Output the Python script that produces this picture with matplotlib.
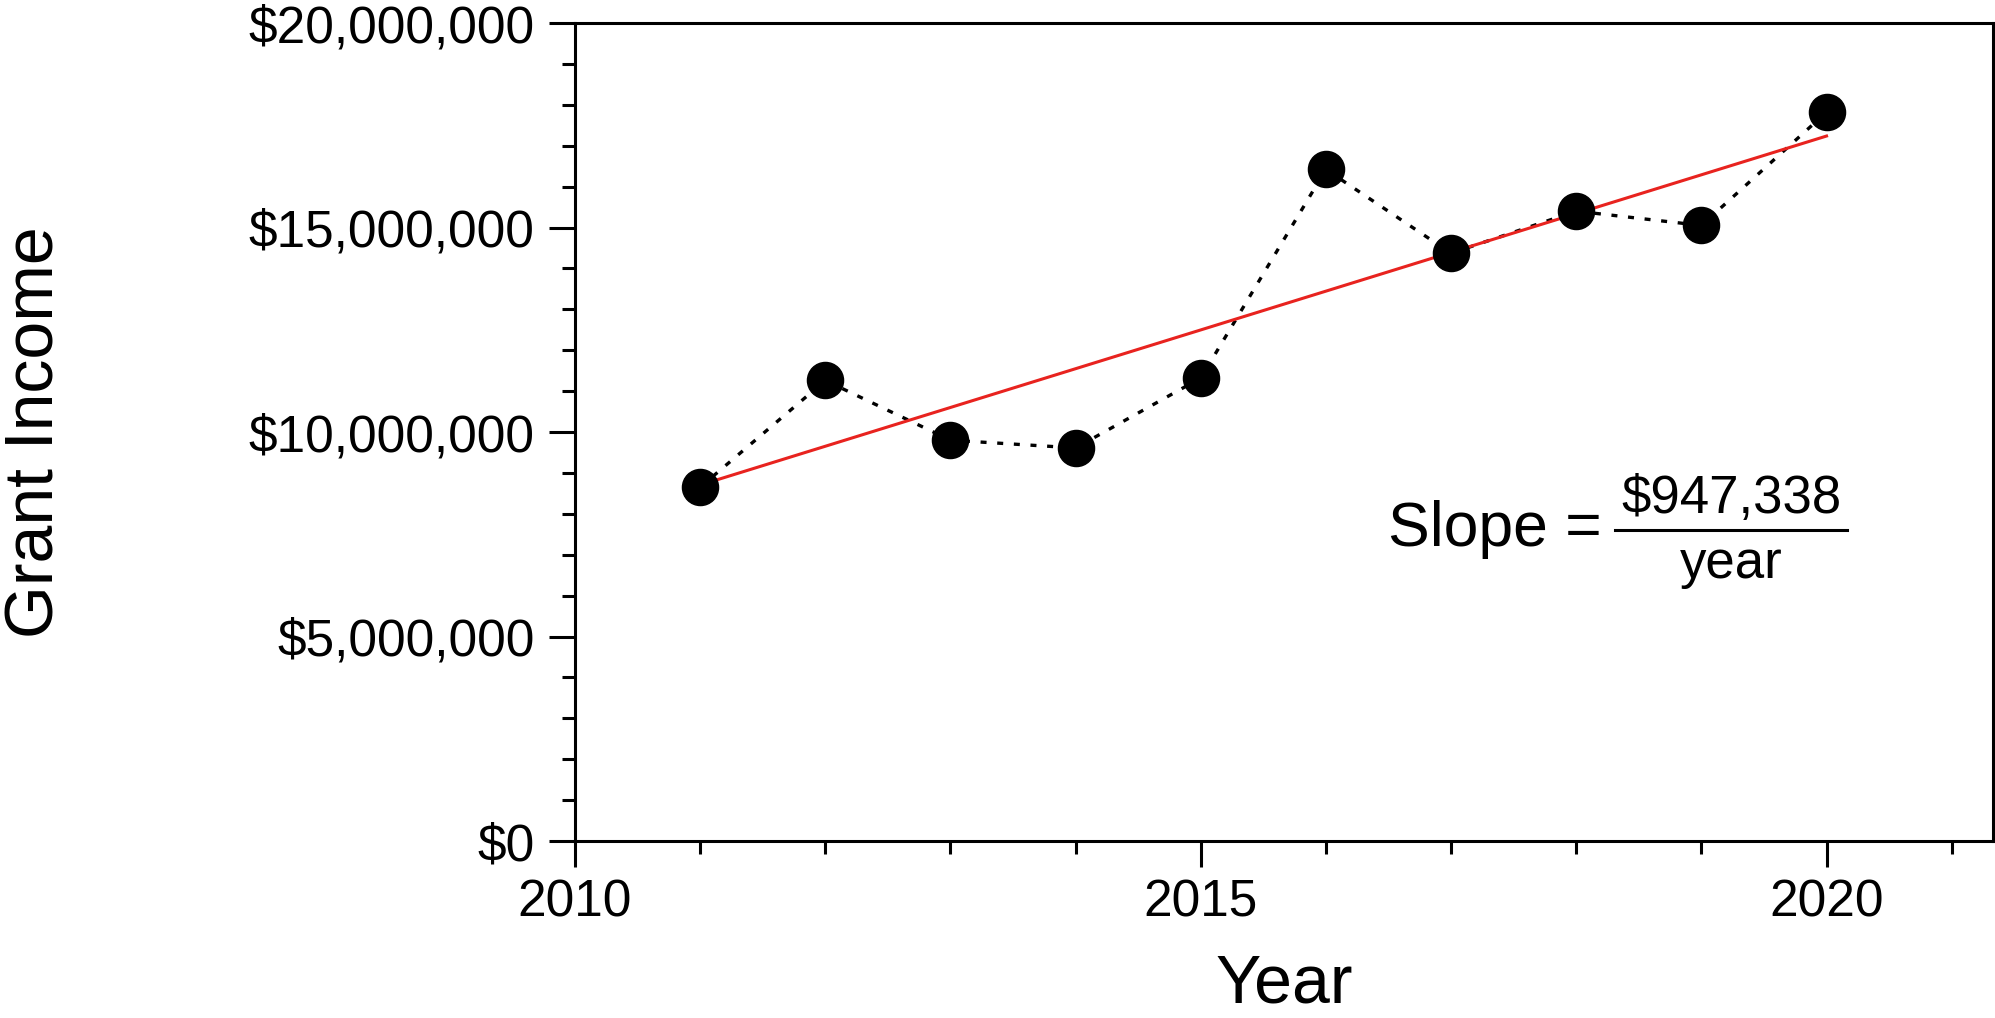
import numpy as np
import matplotlib
matplotlib.use("Agg")
import matplotlib.pyplot as plt
from matplotlib.ticker import FuncFormatter, MultipleLocator
from matplotlib.lines import Line2D

plt.rcParams['font.family'] = ['Liberation Sans', 'DejaVu Sans']

# Annual grant income
years = [2011, 2012, 2013, 2014, 2015, 2016, 2017, 2018, 2019, 2020]
income = [8.65e6, 11.26e6, 9.80e6, 9.61e6, 11.32e6, 16.42e6, 14.37e6, 15.40e6, 15.05e6, 17.82e6]
slope_label = "$947,338"

x = np.array(years, dtype=float)
y = np.array(income, dtype=float)
slope, intercept = np.polyfit(x, y, 1)

fig = plt.figure(figsize=(19.95, 10.18), dpi=100)
ax = fig.add_axes([575 / 1995, 1 - 841 / 1018, 1418 / 1995, 818 / 1018])

# observed values joined by a dotted line
ax.plot(x, y, color='black', lw=2.4, linestyle=(0, (1.8, 3.2)), zorder=2)
# least-squares trend
ax.plot(x, slope * x + intercept, color='#e8231f', lw=2.2, zorder=3)
ax.plot(x, y, 'o', color='black', markersize=26, zorder=4)

ax.set_xlim(2010, 2021.33)
ax.set_ylim(0, 20e6)
ax.xaxis.set_major_locator(MultipleLocator(5))
ax.xaxis.set_minor_locator(MultipleLocator(1))
ax.yaxis.set_major_locator(MultipleLocator(5e6))
ax.yaxis.set_minor_locator(MultipleLocator(1e6))
ax.yaxis.set_major_formatter(FuncFormatter(lambda v, p: "${:,.0f}".format(v)))

for s in ax.spines.values():
    s.set_linewidth(2.2)
ax.tick_params(which='major', direction='out', length=19, width=2.2,
               labelsize=37, pad=8)
ax.tick_params(which='minor', direction='out', length=9.5, width=2.2)
ax.tick_params(axis='y', which='major', pad=10)

fig.text(3 / 1995, 1 - 432 / 1018, "Grant Income",
         rotation=90, fontsize=49, ha='left', va='center')
fig.text(1284 / 1995, 0.001, "Year", fontsize=49,
         ha='center', va='bottom')

# slope annotation written as a fraction
ax.text(0.5733, 0.3606, "Slope =", transform=ax.transAxes, fontsize=45,
        ha='left', va='baseline')
ax.text(0.8152, 0.401, slope_label, transform=ax.transAxes, fontsize=38,
        ha='center', va='baseline')
ax.text(0.8152, 0.3215, "year", transform=ax.transAxes, fontsize=38,
        ha='center', va='baseline')
ax.add_line(Line2D([0.7334, 0.8970], [0.3802, 0.3802], transform=ax.transAxes,
                   color='black', lw=2.2))

fig.savefig("out.png", dpi=100)
